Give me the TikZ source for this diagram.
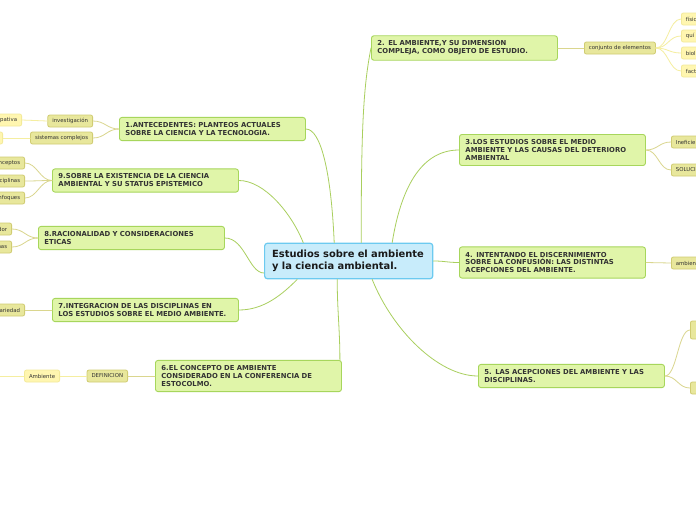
\documentclass[tikz,border=0pt]{standalone}
\usepackage{fontspec}
\setmainfont{DejaVu Sans}
\usepackage{tikz}

\begin{document}
\begin{tikzpicture}[x=1pt,y=-1pt,line cap=round,
	rootbox/.style={draw=custcol_6c_ca_f0, fill=custcol_c8_ec_fb, line width=1.2pt, rounded corners=3pt, anchor=west, align=left, text width=153pt, inner xsep=7.6pt, inner ysep=7pt, font=\mapfontA, text=custcol_1a_1a_1a},
	topicbox/.style={draw=custcol_a7_d6_5c, fill=custcol_e0_f5_a9, line width=0.9pt, rounded corners=2.5pt, anchor=west, align=left, text width=174pt, inner xsep=6pt, inner ysep=5pt, font=\mapfontB, text=custcol_33_33_33},
	subbox/.style={draw=custcol_d0_cc_72, fill=custcol_e8_e7_9c, line width=0.8pt, rounded corners=2pt, minimum height=12pt, inner xsep=4.5pt, inner ysep=1pt, font=\mapfontC, text=custcol_33_33_33},
	leafbox/.style={subbox, draw=custcol_f3_ea_9a, fill=custcol_ff_f6_b0},
	mainlink/.style={line width=0.8pt, custcol_a9_cf_5e},
	sublink/.style={line width=0.8pt, custcol_da_d6_8e},
	leaflink/.style={line width=0.8pt, custcol_f5_ee_a0}]
						\def\mapfontA{\fontsize{9.9pt}{12pt}\bfseries\selectfont}
						\def\mapfontB{\fontsize{6.85pt}{8pt}\bfseries\selectfont}
						\def\mapfontC{\fontsize{5.4pt}{6.5pt}\selectfont}
						\definecolor{custcol_6c_ca_f0}{RGB}{108, 202, 240}
						\definecolor{custcol_c8_ec_fb}{RGB}{200, 236, 251}
						\definecolor{custcol_a7_d6_5c}{RGB}{167, 214, 92}
						\definecolor{custcol_e0_f5_a9}{RGB}{224, 245, 169}
						\definecolor{custcol_d0_cc_72}{RGB}{208, 204, 114}
						\definecolor{custcol_e8_e7_9c}{RGB}{232, 231, 156}
						\definecolor{custcol_f3_ea_9a}{RGB}{243, 234, 154}
						\definecolor{custcol_ff_f6_b0}{RGB}{255, 246, 176}
						\definecolor{custcol_a9_cf_5e}{RGB}{169, 207, 94}
						\definecolor{custcol_da_d6_8e}{RGB}{218, 214, 142}
						\definecolor{custcol_f5_ee_a0}{RGB}{245, 238, 160}
						\definecolor{custcol_1a_1a_1a}{RGB}{26, 26, 26}
						\definecolor{custcol_33_33_33}{RGB}{51, 51, 51}
						\fill [white] (0,0) rectangle (696,520);
						\useasboundingbox (0,0) rectangle (696,520);
						\clip (0,0) rectangle (696,520);
						% central idea and the nine topics
						\node [rootbox] (root) at (264,261) {Estudios sobre el ambiente\\y la ciencia ambiental.};
						\node [topicbox] (t1) at (119,129) {1.ANTECEDENTES: PLANTEOS ACTUALES\\SOBRE LA CIENCIA Y LA TECNOLOGIA.};
						\node [topicbox] (t2) at (371,48) {2. EL AMBIENTE,Y SU DIMENSION\\COMPLEJA, COMO OBJETO DE ESTUDIO.};
						\node [topicbox] (t3) at (459,150) {3.LOS ESTUDIOS SOBRE EL MEDIO\\AMBIENTE Y LAS CAUSAS DEL DETERIORO\\AMBIENTAL};
						\node [topicbox] (t4) at (459,262.5) {4. INTENTANDO EL DISCERNIMIENTO\\SOBRE LA CONFUSIÓN: LAS DISTINTAS\\ACEPCIONES DEL AMBIENTE.};
						\node [topicbox] (t5) at (478,376) {5. LAS ACEPCIONES DEL AMBIENTE Y LAS\\DISCIPLINAS.};
						\node [topicbox] (t6) at (155,376) {6.EL CONCEPTO DE AMBIENTE\\CONSIDERADO EN LA CONFERENCIA DE\\ESTOCOLMO.};
						\node [topicbox] (t7) at (52,310) {7.INTEGRACION DE LAS DISCIPLINAS EN\\LOS ESTUDIOS SOBRE EL MEDIO AMBIENTE.};
						\node [topicbox] (t8) at (38,238) {8.RACIONALIDAD Y CONSIDERACIONES\\ETICAS};
						\node [topicbox] (t9) at (52,180.5) {9.SOBRE LA EXISTENCIA DE LA CIENCIA\\AMBIENTAL Y SU STATUS EPISTEMICO};
						% left side labels
						\node [subbox, anchor=east] (inve) at (93,121) {investigación};
						\node [subbox, anchor=east] (sist) at (93,138) {sistemas complejos};
						\node [leafbox, anchor=east] (ipat) at (22,120) {ipativa};
						\node [leafbox, anchor=east, minimum width=12pt] (sisl) at (3,138) {};
						\node [subbox, anchor=east] (conc) at (25,163) {onceptos};
						\node [subbox, anchor=east] (disc) at (25,181) {sciplinas};
						\node [subbox, anchor=east] (enfo) at (25,198) {nfoques};
						\node [subbox, anchor=east] (rdor) at (12,229) {dor};
						\node [subbox, anchor=east] (rnas) at (12,247) {nas};
						\node [subbox, anchor=east] (vari) at (25,310) {ariedad};
						\node [subbox, anchor=east] (defi) at (128,376) {DEFINICION};
						\node [leafbox, anchor=east] (ambi) at (60,376) {Ambiente};
						\coordinate (ambo) at (0,376);
						% right side labels
						\node [subbox, anchor=west] (conj) at (584,48) {conjunto de elementos};
						\node [leafbox, anchor=west] (fisi) at (681,19) {físic};
						\node [leafbox, anchor=west] (quim) at (681,36) {quí};
						\node [leafbox, anchor=west] (biol) at (681,53) {biol};
						\node [leafbox, anchor=west] (fact) at (681,71) {fact};
						\node [subbox, anchor=west] (inef) at (671,142) {Ineficie};
						\node [subbox, anchor=west] (solu) at (671,170) {SOLUCI};
						\node [subbox, anchor=west] (ambn) at (671,263) {ambien};
						\node [subbox, anchor=west, minimum width=12pt, minimum height=18pt] (acp1) at (690,330) {};
						\node [subbox, anchor=west, minimum width=12pt] (acp2) at (690,388) {};
						% links from the central idea
						\draw [mainlink] ([xshift=-14.5pt]root.north) .. controls +(-3,-70) and +(15,0) .. (t1.east);
						\draw [mainlink] ([xshift=12.5pt]root.north) .. controls +(0,-110) and +(-8,40) .. (t2.west);
						\draw [mainlink] ([xshift=43.5pt]root.north) .. controls +(8,-50) and +(-40,0) .. (t3.west);
						\draw [mainlink] (root.east) .. controls +(12,0) and +(-12,0) .. (t4.west);
						\draw [mainlink] ([xshift=23.5pt]root.south) .. controls +(20,50) and +(-40,0) .. (t5.west);
						\draw [mainlink] ([xshift=-11.5pt]root.south) .. controls +(0,30) and +(0,-30) .. ([xshift=-2pt]t6.north east);
						\draw [mainlink] ([xshift=-51.5pt]root.south) .. controls +(-15,15) and +(25,0) .. (t7.east);
						\draw [mainlink] ([yshift=-12pt]root.west) .. controls +(-15,0) and +(20,0) .. (t8.east);
						\draw [mainlink] ([xshift=-45.5pt]root.north) .. controls +(-12,-30) and +(25,0) .. (t9.east);
						% links to the labels
						\draw [sublink] (t1.west) .. controls +(-12,0) and +(12,0) .. (inve.east);
						\draw [sublink] (t1.west) .. controls +(-12,0) and +(12,0) .. (sist.east);
						\draw [leaflink] (inve.west) -- (ipat.east);
						\draw [leaflink] (sist.west) -- (sisl.east);
						\draw [sublink] (t9.west) .. controls +(-12,0) and +(12,0) .. (conc.east);
						\draw [sublink] (t9.west) .. controls +(-12,0) and +(12,0) .. (disc.east);
						\draw [sublink] (t9.west) .. controls +(-12,0) and +(12,0) .. (enfo.east);
						\draw [sublink] (t8.west) .. controls +(-12,0) and +(12,0) .. (rdor.east);
						\draw [sublink] (t8.west) .. controls +(-12,0) and +(12,0) .. (rnas.east);
						\draw [sublink] (t7.west) -- (vari.east);
						\draw [sublink] (t6.west) -- (defi.east);
						\draw [leaflink] (defi.west) -- (ambi.east);
						\draw [leaflink] (ambi.west) -- (ambo);
						\draw [sublink] (t2.east) -- (conj.west);
						\draw [leaflink] (conj.east) .. controls +(12,0) and +(-12,0) .. (fisi.west);
						\draw [leaflink] (conj.east) .. controls +(12,0) and +(-12,0) .. (quim.west);
						\draw [leaflink] (conj.east) .. controls +(12,0) and +(-12,0) .. (biol.west);
						\draw [leaflink] (conj.east) .. controls +(12,0) and +(-12,0) .. (fact.west);
						\draw [sublink] (t3.east) .. controls +(12,0) and +(-12,0) .. (inef.west);
						\draw [sublink] (t3.east) .. controls +(12,0) and +(-12,0) .. (solu.west);
						\draw [sublink] (t4.east) -- (ambn.west);
						\draw [sublink] (t5.east) .. controls +(12,0) and +(-12,0) .. (acp1.west);
						\draw [sublink] (t5.east) .. controls +(12,0) and +(-12,0) .. (acp2.west);
					\end{tikzpicture}
\end{document}
